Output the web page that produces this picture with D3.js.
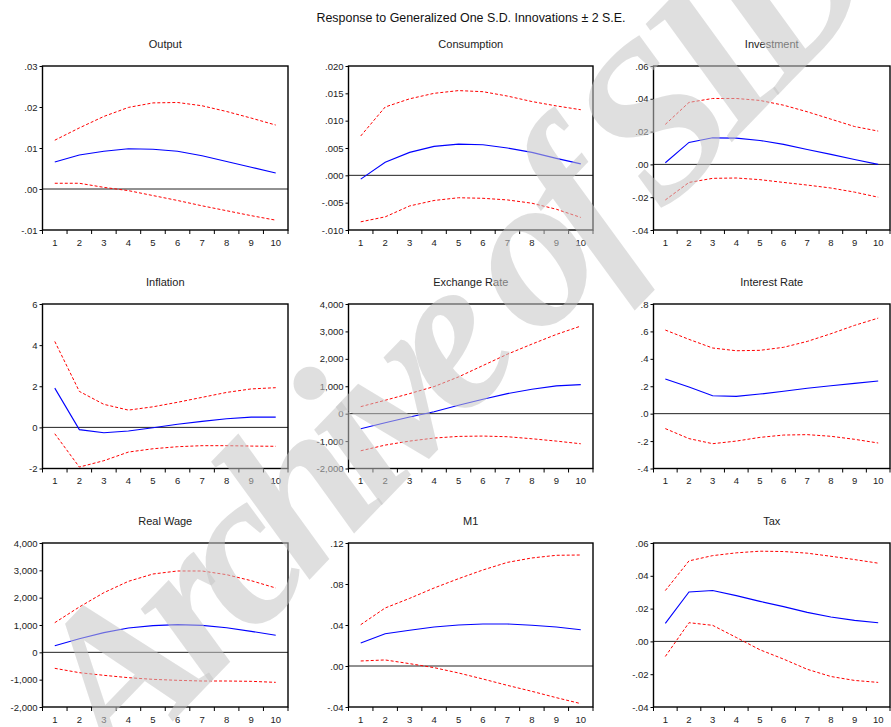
<!DOCTYPE html>
<html>
<head>
<meta charset="utf-8">
<script src="https://cdn.jsdelivr.net/npm/d3@7"></script>
<style>
  html, body { margin: 0; padding: 0; background: #fff; }
  svg { display: block; }
</style>
</head>
<body>
<script>
// ---------- DATA ----------
const periods = [1, 2, 3, 4, 5, 6, 7, 8, 9, 10];
const mainTitle = "Response to Generalized One S.D. Innovations \u00B1 2 S.E.";
const panelTitles = ["Output", "Consumption", "Investment", "Inflation", "Exchange Rate", "Interest Rate", "Real Wage", "M1", "Tax"];

const outputResp  = [0.0066, 0.0083, 0.0092, 0.0098, 0.0097, 0.0092, 0.0081, 0.0067, 0.0053, 0.0039];
const outputUpper = [0.0119, 0.0149, 0.0177, 0.0199, 0.0210, 0.0211, 0.0203, 0.0189, 0.0173, 0.0156];
const outputLower = [0.0014, 0.0014, 0.0004, -0.0004, -0.0016, -0.0028, -0.0041, -0.0053, -0.0065, -0.0076];

const consResp  = [-0.0007, 0.0024, 0.0042, 0.0053, 0.0057, 0.0056, 0.0050, 0.0042, 0.0031, 0.0021];
const consUpper = [0.0072, 0.0125, 0.0140, 0.0150, 0.0155, 0.0153, 0.0145, 0.0135, 0.0127, 0.0120];
const consLower = [-0.0085, -0.0076, -0.0056, -0.0046, -0.0041, -0.0042, -0.0045, -0.0051, -0.0062, -0.0077];

const invResp  = [0.0010, 0.0134, 0.0162, 0.0160, 0.0146, 0.0122, 0.0091, 0.0061, 0.0030, 0.0000];
const invUpper = [0.0244, 0.0378, 0.0402, 0.0402, 0.0390, 0.0361, 0.0321, 0.0276, 0.0231, 0.0203];
const invLower = [-0.0217, -0.0110, -0.0085, -0.0083, -0.0093, -0.0110, -0.0126, -0.0144, -0.0169, -0.0200];

const inflResp  = [1.91, -0.11, -0.26, -0.18, -0.02, 0.15, 0.29, 0.42, 0.50, 0.50];
const inflUpper = [4.18, 1.75, 1.12, 0.84, 1.00, 1.22, 1.46, 1.70, 1.87, 1.93];
const inflLower = [-0.31, -1.93, -1.62, -1.20, -1.04, -0.94, -0.89, -0.89, -0.91, -0.92];

const exchResp  = [-549, -329, -122, 73, 305, 524, 732, 890, 1012, 1061];
const exchUpper = [256, 488, 732, 988, 1341, 1756, 2170, 2537, 2890, 3195];
const exchLower = [-1354, -1146, -1000, -890, -829, -817, -841, -915, -1000, -1098];

const rateResp  = [0.253, 0.194, 0.131, 0.126, 0.143, 0.163, 0.185, 0.204, 0.221, 0.238];
const rateUpper = [0.610, 0.542, 0.479, 0.459, 0.462, 0.484, 0.527, 0.583, 0.644, 0.697];
const rateLower = [-0.109, -0.182, -0.219, -0.200, -0.173, -0.156, -0.153, -0.165, -0.187, -0.214];

const wageResp  = [244, 500, 720, 890, 976, 1012, 988, 902, 768, 622];
const wageUpper = [1085, 1659, 2183, 2598, 2866, 2976, 2976, 2841, 2622, 2354];
const wageLower = [-585, -744, -841, -927, -988, -1024, -1049, -1049, -1061, -1098];

const m1Resp  = [0.0224, 0.0315, 0.0348, 0.0380, 0.0400, 0.0410, 0.0410, 0.0397, 0.0380, 0.0354];
const m1Upper = [0.0403, 0.0566, 0.0660, 0.0761, 0.0852, 0.0937, 0.1011, 0.1054, 0.1080, 0.1083];
const m1Lower = [0.0049, 0.0059, 0.0023, -0.0016, -0.0068, -0.0127, -0.0189, -0.0247, -0.0309, -0.0367];

const taxResp  = [0.0110, 0.0301, 0.0310, 0.0279, 0.0244, 0.0212, 0.0177, 0.0149, 0.0128, 0.0114];
const taxUpper = [0.0310, 0.0491, 0.0523, 0.0540, 0.0550, 0.0548, 0.0538, 0.0519, 0.0499, 0.0477];
const taxLower = [-0.0092, 0.0114, 0.0098, 0.0024, -0.0051, -0.0108, -0.0170, -0.0214, -0.0238, -0.0250];

const outputTicks = [-0.01, 0, 0.01, 0.02, 0.03];
const outputTickLabels = ["-.01", ".00", ".01", ".02", ".03"];
const consTicks = [-0.010, -0.005, 0, 0.005, 0.010, 0.015, 0.020];
const consTickLabels = ["-.010", "-.005", ".000", ".005", ".010", ".015", ".020"];
const invTicks = [-0.04, -0.02, 0, 0.02, 0.04, 0.06];
const invTickLabels = ["-.04", "-.02", ".00", ".02", ".04", ".06"];
const inflTicks = [-2, 0, 2, 4, 6];
const inflTickLabels = ["-2", "0", "2", "4", "6"];
const exchTicks = [-2000, -1000, 0, 1000, 2000, 3000, 4000];
const exchTickLabels = ["-2,000", "-1,000", "0", "1,000", "2,000", "3,000", "4,000"];
const rateTicks = [-0.4, -0.2, 0, 0.2, 0.4, 0.6, 0.8];
const rateTickLabels = ["-.4", "-.2", ".0", ".2", ".4", ".6", ".8"];
const wageTicks = [-2000, -1000, 0, 1000, 2000, 3000, 4000];
const wageTickLabels = ["-2,000", "-1,000", "0", "1,000", "2,000", "3,000", "4,000"];
const m1Ticks = [-0.04, 0, 0.04, 0.08, 0.12];
const m1TickLabels = ["-.04", ".00", ".04", ".08", ".12"];
const taxTicks = [-0.04, -0.02, 0, 0.02, 0.04, 0.06];
const taxTickLabels = ["-.04", "-.02", ".00", ".02", ".04", ".06"];

const watermarkText = "Archive of SID";

// ---------- BUILD ----------
const panels = [
  {resp: outputResp, upper: outputUpper, lower: outputLower, ticks: outputTicks, labels: outputTickLabels},
  {resp: consResp, upper: consUpper, lower: consLower, ticks: consTicks, labels: consTickLabels},
  {resp: invResp, upper: invUpper, lower: invLower, ticks: invTicks, labels: invTickLabels},
  {resp: inflResp, upper: inflUpper, lower: inflLower, ticks: inflTicks, labels: inflTickLabels},
  {resp: exchResp, upper: exchUpper, lower: exchLower, ticks: exchTicks, labels: exchTickLabels},
  {resp: rateResp, upper: rateUpper, lower: rateLower, ticks: rateTicks, labels: rateTickLabels},
  {resp: wageResp, upper: wageUpper, lower: wageLower, ticks: wageTicks, labels: wageTickLabels},
  {resp: m1Resp, upper: m1Upper, lower: m1Lower, ticks: m1Ticks, labels: m1TickLabels},
  {resp: taxResp, upper: taxUpper, lower: taxLower, ticks: taxTicks, labels: taxTickLabels}
];

const W = 891, H = 727;
const SANS = "'Liberation Sans', Arial, sans-serif";
const colLeft = [42.5, 348.5, 653.5], colRight = [288, 593, 890];
const rowTop = [66, 304, 543], rowBottom = [230, 468.5, 707];

const svg = d3.select("body").append("svg").attr("width", W).attr("height", H);

svg.append("text")
  .attr("x", 471).attr("y", 22)
  .attr("text-anchor", "middle")
  .style("font-family", SANS).style("font-size", "12.5px")
  .attr("fill", "#111")
  .attr("textLength", 309).attr("lengthAdjust", "spacingAndGlyphs")
  .text(mainTitle);

panels.forEach((p, i) => {
  const c = i % 3, r = Math.floor(i / 3);
  const x0 = colLeft[c], x1 = colRight[c], y0 = rowTop[r], y1 = rowBottom[r];
  const g = svg.append("g");

  const x = d3.scaleBand().domain(periods).range([x0, x1]).padding(0);
  const y = d3.scaleLinear().domain([d3.min(p.ticks), d3.max(p.ticks)]).range([y1, y0]);
  const xc = d => x(d) + x.bandwidth() / 2;

  g.append("text")
    .attr("x", (x0 + x1) / 2).attr("y", y0 - 18)
    .attr("text-anchor", "middle")
    .style("font-family", SANS).style("font-size", "11px")
    .attr("fill", "#222")
    .text(panelTitles[i]);

  const yAxis = d3.axisLeft(y).tickValues(p.ticks).tickSize(3).tickPadding(2)
    .tickFormat((d, k) => p.labels[k]);
  const ya = g.append("g").attr("transform", `translate(${x0},0)`).call(yAxis);
  ya.select(".domain").remove();
  ya.selectAll("line").attr("stroke", "#000");
  ya.selectAll("text").attr("fill", "#222").style("font-family", SANS).style("font-size", "9.5px");

  const edges = periods.map(d => x(d)).concat([x1]);
  g.selectAll(".xt").data(edges).enter().append("line")
    .attr("x1", d => d).attr("x2", d => d)
    .attr("y1", y1).attr("y2", y1 + 4)
    .attr("stroke", "#000");
  const xa = d3.axisBottom(x).tickSize(0).tickPadding(9);
  const xg = g.append("g").attr("transform", `translate(0,${y1})`).call(xa);
  xg.select(".domain").remove();
  xg.selectAll("text").attr("fill", "#222").style("font-family", SANS).style("font-size", "9.5px");

  g.append("line")
    .attr("x1", x0).attr("x2", x1).attr("y1", y(0)).attr("y2", y(0))
    .attr("stroke", "#222").attr("stroke-width", 1);

  const line = d3.line().x((d, k) => xc(periods[k])).y(d => y(d));
  g.append("path").attr("d", line(p.upper)).attr("fill", "none")
    .attr("stroke", "#ff0000").attr("stroke-width", 1).attr("stroke-dasharray", "3,2");
  g.append("path").attr("d", line(p.lower)).attr("fill", "none")
    .attr("stroke", "#ff0000").attr("stroke-width", 1).attr("stroke-dasharray", "3,2");
  g.append("path").attr("d", line(p.resp)).attr("fill", "none")
    .attr("stroke", "#0000ff").attr("stroke-width", 1.1);

  g.append("rect")
    .attr("x", x0).attr("y", y0).attr("width", x1 - x0).attr("height", y1 - y0)
    .attr("fill", "none").attr("stroke", "#000").attr("stroke-width", 1.4);
});

// watermark overlay
svg.append("text")
  .attr("transform", "translate(119,777) rotate(-46)")
  .style("font-family", "'Liberation Serif', 'DejaVu Serif', serif")
  .style("font-weight", "bold").style("font-style", "italic")
  .style("font-size", "220px").style("letter-spacing", "-20px")
  .attr("fill", "#c4c4c4").attr("fill-opacity", 0.55)
  .text(watermarkText);
</script>
</body>
</html>
